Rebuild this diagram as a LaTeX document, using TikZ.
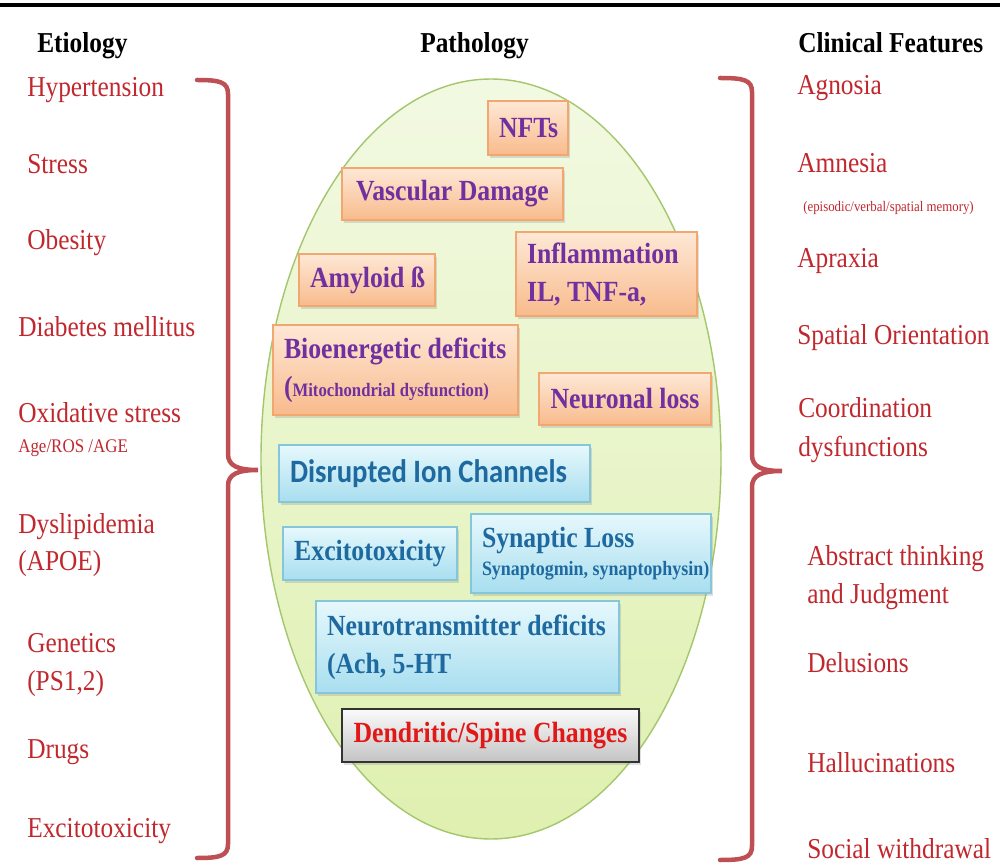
\documentclass[tikz,border=0pt]{standalone}
\usepackage{fontspec}
\setmainfont{Liberation Serif}[FakeStretch=0.88]
\newfontfamily\ionfont{Carlito}[FakeStretch=0.88]
\usepackage{tikz}
\usetikzlibrary{shadows}
\usetikzlibrary{calc}

\definecolor{causered}{HTML}{C0282E}
\definecolor{bracered}{HTML}{BE5055}
\definecolor{boxpurple}{HTML}{7030A0}
\definecolor{boxblue}{HTML}{1E6AA0}
\definecolor{spinered}{HTML}{E01818}
\definecolor{orangetop}{HTML}{FEE8D6}
\definecolor{orangebot}{HTML}{F8BB8C}
\definecolor{orangeline}{HTML}{F2A770}
\definecolor{bluetop}{HTML}{E6F8FC}
\definecolor{bluebot}{HTML}{A8DEEF}
\definecolor{blueline}{HTML}{86C6DA}
\definecolor{greytop}{HTML}{FAFAFA}
\definecolor{greybot}{HTML}{C4C4C4}
\definecolor{ovaltop}{HTML}{F2F9E2}
\definecolor{ovalbot}{HTML}{DFF0B0}
\definecolor{ovalline}{HTML}{A4C66C}

\newcommand{\PathoUnit}{0.025cm}
% box given by its corners: name, style, x1, y1, x2, y2, text
\newcommand{\PathoBox}[7]{
  \pgfmathsetlengthmacro{\PathoW}{(#5-#3-22)*\PathoUnit}
  \pgfmathsetlengthmacro{\PathoH}{(#6-#4)*\PathoUnit}
  \node[#2, text width=\PathoW, minimum height=\PathoH] (#1) at ({(#3+#5)/2},{(#4+#6)/2}) {#7};
}
% square bracket with a tip: hook end, spine, tip, top, tip height, bottom
\newcommand{\PathoBrace}[6]{
  \draw[brace] (#1,#4) .. controls (#2-8,#4) and (#2,#4+2) .. (#2,#4+14)
    -- (#2,#5-16) .. controls (#2,#5-4) and (#2+10,#5) .. (#3,#5)
    .. controls (#2+10,#5) and (#2,#5+4) .. (#2,#5+16)
    -- (#2,#6-14) .. controls (#2,#6-2) and (#2-8,#6) .. (#1,#6);
}

\begin{document}
\begin{tikzpicture}[x=0.025cm,y=-0.025cm,
  brace/.style={draw=bracered, line width=3.2pt, line cap=round},
  heading/.style={anchor=base west, inner sep=0pt, font=\fontsize{20.5}{27}\selectfont\bfseries},
  causetext/.style={anchor=base west, inner sep=0pt, text=causered, font=\fontsize{20.5}{27}\selectfont},
  smallcause/.style={causetext, font=\fontsize{13.7}{16}\selectfont},
  pathobox/.style={inner xsep=0.275cm, inner ysep=0pt, line width=0.8pt,
    font=\fontsize{20.8}{27}\selectfont\bfseries,
    drop shadow={shadow xshift=1.5pt, shadow yshift=-2pt, opacity=0.25}},
  orangebox/.style={pathobox, draw=orangeline, top color=orangetop, bottom color=orangebot, text=boxpurple},
  bluebox/.style={pathobox, draw=blueline, top color=bluetop, bottom color=bluebot, text=boxblue},
  greybox/.style={pathobox, draw=black!80, line width=1.2pt, top color=greytop, bottom color=greybot, text=spinered}]
\useasboundingbox (0,0) rectangle (1000,865);

% rule on top
\draw[line width=2.8pt] (0,5) -- (1000,5);

% column titles
\node[heading] (etiology) at (37,53) {Etiology};
\node[heading] (pathology) at (420,53) {Pathology};
\node[heading] (clinical) at (798,53) {Clinical Features};

% the pathology oval
\path[draw=ovalline, line width=1pt, top color=ovaltop, bottom color=ovalbot]
  (491,459) ellipse [x radius=230, y radius=380];

\PathoBrace{197}{228}{258}{80}{470}{858}
\PathoBrace{720}{752}{782}{78}{471}{860}

% causes
\node[causetext] (hyper) at (27,97) {Hypertension};
\node[causetext] (stress) at (27,174) {Stress};
\node[causetext] (obesity) at (27,250) {Obesity};
\node[causetext] (diabetes) at (18,337) {Diabetes mellitus};
\node[causetext] (oxid) at (18,423) {Oxidative stress};
\node[smallcause] (oxidsub) at (18,452) {Age/ROS /AGE};
\node[causetext] (dyslip) at (18,533) {Dyslipidemia};
\node[causetext] (apoe) at (18,570) {(APOE)};
\node[causetext] (genetics) at (27,652) {Genetics};
\node[causetext] (presen) at (27,690) {(PS1,2)};
\node[causetext] (drugs) at (27,758) {Drugs};
\node[causetext] (excito) at (27,837) {Excitotoxicity};

% pathology boxes
\PathoBox{nft}{orangebox, align=flush center}{488}{101}{568}{155}{NFTs}
\PathoBox{vasc}{orangebox, align=flush center}{342}{168}{563}{220}{Vascular Damage}
\PathoBox{amyloid}{orangebox, align=flush center}{299}{254}{435}{306}{\mbox{Amyloid ß}}
\PathoBox{inflam}{orangebox, align=flush left}{516}{232}{697}{316}{Inflammation\\IL, TNF-a,}
\PathoBox{bioen}{orangebox, align=flush left}{273}{325}{518}{415}{Bioenergetic deficits\\(\fontsize{13.5}{16}\selectfont Mitochondrial dysfunction)}
\PathoBox{neuron}{orangebox, align=flush center}{539}{373}{711}{425}{Neuronal loss}
\PathoBox{ion}{bluebox, align=flush left, font=\ionfont\fontsize{23.2}{26}\selectfont\bfseries}{279}{445}{590}{502}{Disrupted Ion Channels}
\PathoBox{excit}{bluebox, align=flush center}{283}{527}{457}{580}{Excitotoxicity}
\PathoBox{synapse}{bluebox, align=flush left}{471}{514}{711}{593}{Synaptic Loss\\[-7pt]\mbox{\fontsize{14.5}{17}\selectfont Synaptogmin, synaptophysin)}}
\PathoBox{neurotr}{bluebox, align=flush left}{316}{601}{619}{693}{Neurotransmitter deficits\\(Ach, 5-HT}
\PathoBox{dendrite}{greybox, align=flush center}{342}{709}{639}{762}{\mbox{Dendritic/Spine Changes}}

% clinical features
\node[causetext] (agnosia) at (797,95) {Agnosia};
\node[causetext] (amnesia) at (797,173) {Amnesia};
\node[causetext, font=\fontsize{10.4}{12}\selectfont] (amnesiasub) at (803,212) {(episodic/verbal/spatial memory)};
\node[causetext] (apraxia) at (797,268) {Apraxia};
\node[causetext] (spatial) at (797,345) {Spatial Orientation};
\node[causetext] (coord) at (798,418) {Coordination};
\node[causetext] (coord2) at (798,457) {dysfunctions};
\node[causetext] (abstract) at (807,565) {Abstract thinking};
\node[causetext] (abstract2) at (807,603) {and Judgment};
\node[causetext] (delusions) at (807,672) {Delusions};
\node[causetext] (halluc) at (807,772) {Hallucinations};
\node[causetext] (social) at (807,858) {Social withdrawal};
\end{tikzpicture}
\end{document}
